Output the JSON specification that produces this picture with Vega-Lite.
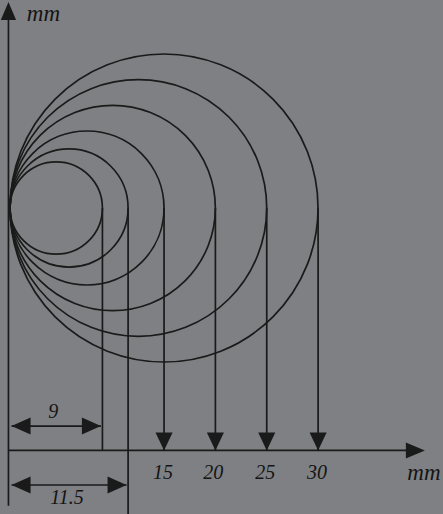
{
  "$schema": "https://vega.github.io/schema/vega-lite/v6.json",
  "width": 443,
  "height": 514,
  "padding": 0,
  "autosize": {"type": "none"},
  "background": "#7e8083",
  "config": {"view": {"stroke": null}},
  "datasets": {
    "circles": [
      {"d": 9, "cx": 4.5},
      {"d": 11.5, "cx": 5.75},
      {"d": 15, "cx": 7.5},
      {"d": 20, "cx": 10},
      {"d": 25, "cx": 12.5},
      {"d": 30, "cx": 15}
    ],
    "verticals": [
      {"d": 9, "top": 0, "bottom": -23.61},
      {"d": 11.5, "top": 0, "bottom": -29.8},
      {"d": 15, "top": 0, "bottom": -23.61},
      {"d": 20, "top": 0, "bottom": -23.61},
      {"d": 25, "top": 0, "bottom": -23.61},
      {"d": 30, "top": 0, "bottom": -23.61}
    ],
    "axes": [
      {"x1": -0.15, "y1": -29.0, "x2": -0.15, "y2": 19.6},
      {"x1": -0.15, "y1": -23.61, "x2": 39.9, "y2": -23.61}
    ],
    "dims": [
      {"label": "9", "x1": 0.15, "x2": 8.85, "y": -21.23},
      {"label": "11.5", "x1": 0.15, "x2": 11.35, "y": -26.97}
    ],
    "downArrows": [
      {"d": 15, "y": -23.61},
      {"d": 20, "y": -23.61},
      {"d": 25, "y": -23.61},
      {"d": 30, "y": -23.61}
    ],
    "numLabels": [
      {"text": "9", "x": 4.2, "y": -19.86},
      {"text": "11.5", "x": 5.55, "y": -28.24},
      {"text": "15", "x": 14.9, "y": -25.8},
      {"text": "20", "x": 19.8, "y": -25.8},
      {"text": "25", "x": 24.85, "y": -25.8},
      {"text": "30", "x": 29.9, "y": -25.8}
    ],
    "unitLabels": [
      {"text": "mm", "x": 40.3, "y": -25.8},
      {"text": "mm", "x": 3.26, "y": 18.9}
    ]
  },
  "encoding": {},
  "layer": [
    {
      "data": {"name": "axes"},
      "mark": {"type": "rule", "color": "#1a1a1a", "strokeWidth": 1.7},
      "encoding": {
        "x": {"field": "x1", "type": "quantitative", "scale": {"domain": [-0.9737, 42.162], "nice": false, "zero": false}, "axis": null},
        "y": {"field": "y1", "type": "quantitative", "scale": {"domain": [-29.796, 20.253], "nice": false, "zero": false}, "axis": null},
        "x2": {"field": "x2"},
        "y2": {"field": "y2"}
      }
    },
    {
      "data": {"name": "circles"},
      "mark": {"type": "point", "shape": "circle", "filled": false, "stroke": "#1a1a1a", "strokeWidth": 1.7, "opacity": 1},
      "encoding": {
        "x": {"field": "cx", "type": "quantitative"},
        "y": {"datum": 0, "type": "quantitative"},
        "size": {"field": "d", "type": "quantitative", "scale": {"type": "pow", "exponent": 2, "domain": [0, 30], "range": [0, 94864]}, "legend": null}
      }
    },
    {
      "data": {"name": "verticals"},
      "mark": {"type": "rule", "color": "#1a1a1a", "strokeWidth": 1.7},
      "encoding": {
        "x": {"field": "d", "type": "quantitative"},
        "y": {"field": "top", "type": "quantitative"},
        "y2": {"field": "bottom"}
      }
    },
    {
      "data": {"name": "dims"},
      "mark": {"type": "rule", "color": "#1a1a1a", "strokeWidth": 1.7},
      "encoding": {
        "x": {"field": "x1", "type": "quantitative"},
        "x2": {"field": "x2"},
        "y": {"field": "y", "type": "quantitative"}
      }
    },
    {
      "data": {"name": "dims"},
      "mark": {"type": "point", "shape": "M0,0L2,-0.9L2,0.9Z", "filled": true, "color": "#1a1a1a", "opacity": 1, "size": 361},
      "encoding": {
        "x": {"field": "x1", "type": "quantitative"},
        "y": {"field": "y", "type": "quantitative"}
      }
    },
    {
      "data": {"name": "dims"},
      "mark": {"type": "point", "shape": "M0,0L-2,-0.9L-2,0.9Z", "filled": true, "color": "#1a1a1a", "opacity": 1, "size": 361},
      "encoding": {
        "x": {"field": "x2", "type": "quantitative"},
        "y": {"field": "y", "type": "quantitative"}
      }
    },
    {
      "data": {"name": "downArrows"},
      "mark": {"type": "point", "shape": "M0,0L-0.95,-2L0.95,-2Z", "filled": true, "color": "#1a1a1a", "opacity": 1, "size": 324},
      "encoding": {
        "x": {"field": "d", "type": "quantitative"},
        "y": {"field": "y", "type": "quantitative"}
      }
    },
    {
      "data": {"values": [{"x": -0.15, "y": 20.06}]},
      "mark": {"type": "point", "shape": "M0,0L-0.85,2L0.85,2Z", "filled": true, "color": "#1a1a1a", "opacity": 1, "size": 324},
      "encoding": {
        "x": {"field": "x", "type": "quantitative"},
        "y": {"field": "y", "type": "quantitative"}
      }
    },
    {
      "data": {"values": [{"x": 40.4, "y": -23.61}]},
      "mark": {"type": "point", "shape": "M0,0L-2,-0.85L-2,0.85Z", "filled": true, "color": "#1a1a1a", "opacity": 1, "size": 361},
      "encoding": {
        "x": {"field": "x", "type": "quantitative"},
        "y": {"field": "y", "type": "quantitative"}
      }
    },
    {
      "data": {"name": "numLabels"},
      "mark": {"type": "text", "font": "Liberation Serif", "fontStyle": "italic", "fontSize": 20, "color": "#141414", "align": "center", "baseline": "middle"},
      "encoding": {
        "x": {"field": "x", "type": "quantitative"},
        "y": {"field": "y", "type": "quantitative"},
        "text": {"field": "text"}
      }
    },
    {
      "data": {"name": "unitLabels"},
      "mark": {"type": "text", "font": "Liberation Serif", "fontStyle": "italic", "fontSize": 23, "color": "#141414", "align": "center", "baseline": "middle"},
      "encoding": {
        "x": {"field": "x", "type": "quantitative"},
        "y": {"field": "y", "type": "quantitative"},
        "text": {"field": "text"}
      }
    }
  ]
}
